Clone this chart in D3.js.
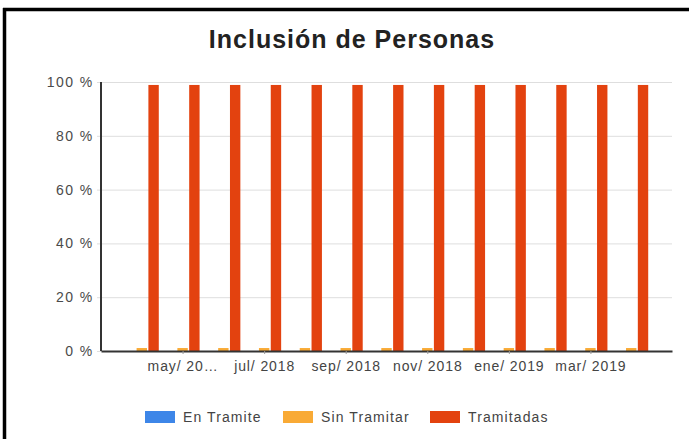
<!DOCTYPE html>
<html>
<head>
<meta charset="utf-8">
<script src="https://cdn.jsdelivr.net/npm/d3@7"></script>
<style>
  html, body { margin: 0; padding: 0; background: #fff; }
  svg { display: block; font-family: "Liberation Sans", Arial, sans-serif; }
</style>
</head>
<body>
<svg id="chart" width="689" height="439"></svg>
<script>
const months = ["abr/ 2018","may/ 2018","jun/ 2018","jul/ 2018","ago/ 2018","sep/ 2018","oct/ 2018","nov/ 2018","dic/ 2018","ene/ 2019","feb/ 2019","mar/ 2019","abr/ 2019"];
const tickLabels = ["may/ 20…","jul/ 2018","sep/ 2018","nov/ 2018","ene/ 2019","mar/ 2019"];
const tickIndex = [1,3,5,7,9,11];
const seriesNames = ["En Tramite","Sin Tramitar","Tramitadas"];
const colors = ["#3d86e8","#f9aa35","#e3420f"];
const enTramite   = [0,0,0,0,0,0,0,0,0,0,0,0,0];
const sinTramitar = [1.1,1.1,1.1,1.1,1.1,1.1,1.1,1.1,1.1,1.1,1.1,1.1,1.1];
const tramitadas  = [98.9,98.9,98.9,98.9,98.9,98.9,98.9,98.9,98.9,98.9,98.9,98.9,98.9];
const yTicks = [0,20,40,60,80,100];

(function(){
const svg = d3.select("#chart");
const W = 689, H = 439;
const pL = 101, pR = 672, pT = 82, pB = 351;

// frame
svg.append("line").attr("x1",3).attr("x2",W).attr("y1",9.5).attr("y2",9.5).attr("stroke","#000").attr("stroke-width",3.5);
svg.append("line").attr("x1",4.5).attr("x2",4.5).attr("y1",8).attr("y2",H).attr("stroke","#000").attr("stroke-width",3.5);

// title
svg.append("text").attr("x",352).attr("y",48).attr("text-anchor","middle")
  .attr("font-size",25).attr("font-weight","bold").attr("letter-spacing",1).attr("fill","#222").text("Inclusión de Personas");

const x = d3.scaleLinear().domain([0, months.length + 1]).range([pL, pR]);
const y = d3.scaleLinear().domain([0,100]).range([pB, pT]);
const inner = d3.scaleBand().domain(seriesNames).range([-17, 17]).paddingInner(0.12);

// gridlines and y labels
const yAxis = d3.axisLeft(y).tickValues(yTicks).tickFormat(d => d + " %")
  .tickSize(-(pR - pL)).tickPadding(6).tickSizeOuter(0);
const gy = svg.append("g").attr("transform",`translate(${pL},0)`).call(yAxis);
gy.select(".domain").remove();
gy.selectAll(".tick line").attr("stroke","#dedede").attr("x1",-4);
gy.selectAll(".tick text").attr("font-size",14).attr("letter-spacing",1.4).attr("fill","#4a4a4a").attr("x",-7.5);

// bars
const data = [enTramite, sinTramitar, tramitadas];
seriesNames.forEach((name, s) => {
  svg.append("g").selectAll("rect").data(data[s]).join("rect")
    .attr("x",(d,i) => x(i+1) + inner(name))
    .attr("width", inner.bandwidth())
    .attr("y", d => y(d))
    .attr("height", d => y(0) - y(d))
    .attr("fill", colors[s]);
});

// axes lines
svg.append("line").attr("x1",pL).attr("x2",pL).attr("y1",pT).attr("y2",pB).attr("stroke","#333").attr("stroke-width",2);
const xAxis = d3.axisBottom(x).tickValues(tickIndex.map(i => i+1))
  .tickFormat((d,k) => tickLabels[k]).tickSize(3).tickPadding(7).tickSizeOuter(0);
const gx = svg.append("g").attr("transform",`translate(0,${pB})`).call(xAxis);
gx.select(".domain").attr("stroke","#333").attr("stroke-width",2);
gx.selectAll(".tick line").attr("stroke","#999");
gx.selectAll(".tick text").attr("font-size",14).attr("letter-spacing",0.9).attr("fill","#444");

// legend
const legendX = [145, 283, 430];
const lg = svg.append("g");
seriesNames.forEach((name, s) => {
  lg.append("rect").attr("x",legendX[s]).attr("y",411).attr("width",30).attr("height",12).attr("fill",colors[s]);
  lg.append("text").attr("x",legendX[s]+38).attr("y",422).attr("font-size",14).attr("letter-spacing",1.1).attr("fill","#444").text(name);
});
})();
</script>
</body>
</html>
